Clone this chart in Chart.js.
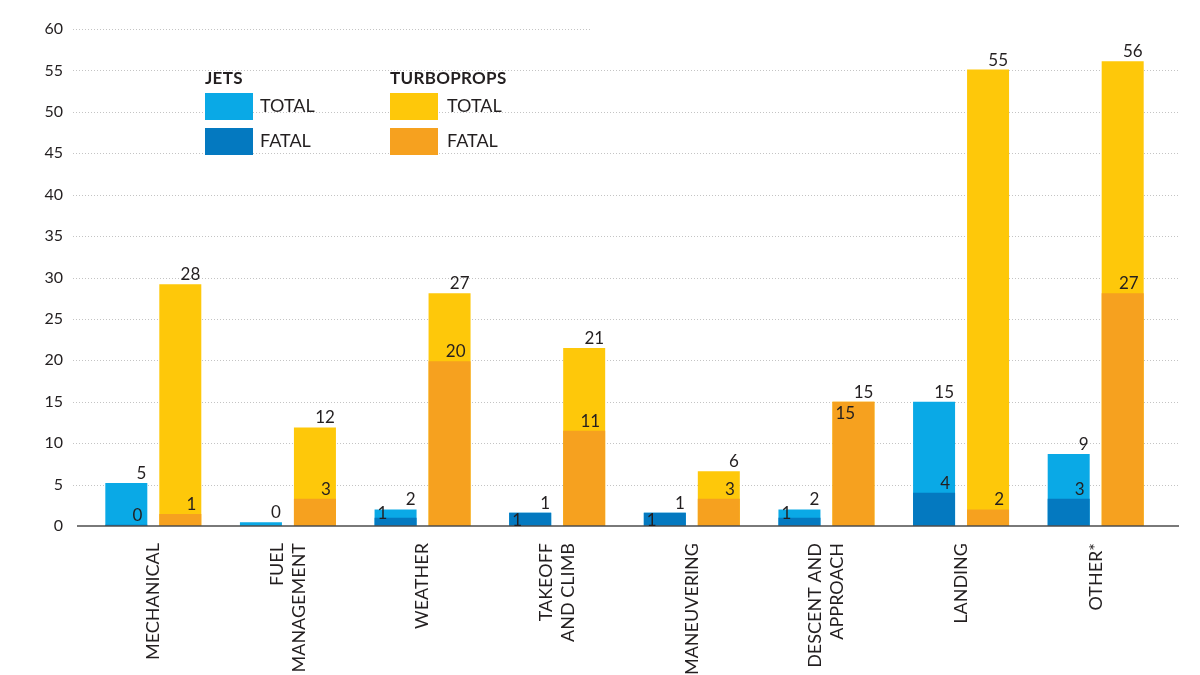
<!DOCTYPE html>
<html>
<head>
<meta charset="utf-8">
<script src="https://cdn.jsdelivr.net/npm/chart.js@4.4.1/dist/chart.umd.min.js"></script>
<style>
html,body{margin:0;padding:0;background:#fff;}
#wrap{position:relative;width:1200px;height:675px;overflow:hidden;background:#fff;}
#c{position:absolute;left:0;top:0;}
.lg{position:absolute;font-family:Lato,'Open Sans',sans-serif;color:#231f20;white-space:nowrap;}
.hd{font-weight:700;font-size:17px;line-height:17px;top:69px;letter-spacing:0.3px;}
.tx{font-size:18px;line-height:18px;}
.sw{position:absolute;width:48px;height:27px;}
</style>
</head>
<body>
<div id="wrap">
<canvas id="c" width="1200" height="675"></canvas>
<div class="lg hd" style="left:205px;">JETS</div>
<div class="sw" style="left:205px;top:93px;background:#0aa9e6;"></div>
<div class="lg tx" style="left:260px;top:96px;">TOTAL</div>
<div class="sw" style="left:205px;top:128px;background:#0479c0;"></div>
<div class="lg tx" style="left:260px;top:131px;">FATAL</div>
<div class="lg hd" style="left:390px;">TURBOPROPS</div>
<div class="sw" style="left:390px;top:93px;background:#fec80a;"></div>
<div class="lg tx" style="left:447px;top:96px;">TOTAL</div>
<div class="sw" style="left:390px;top:128px;background:#f6a11f;"></div>
<div class="lg tx" style="left:447px;top:131px;">FATAL</div>
</div>
<script>
// ---- data ----
const categories = [['MECHANICAL'], ['FUEL', 'MANAGEMENT'], ['WEATHER'], ['TAKEOFF', 'AND CLIMB'], ['MANEUVERING'], ['DESCENT AND', 'APPROACH'], ['LANDING'], ['OTHER*']];
// bar heights as drawn in the picture
const jetsTotal  = [5.2, 0.45, 2.0, 1.6, 1.6, 2.0, 15.0, 8.7];
const jetsFatal  = [0.15, 0, 1.0, 1.6, 1.6, 1.0, 4.0, 3.3];
const turboTotal = [29.2, 11.9, 28.1, 21.5, 6.6, 15.0, 55.1, 56.1];
const turboFatal = [1.45, 3.3, 19.9, 11.5, 3.3, 15.0, 2.0, 28.1];
// printed value labels
const jetsTotalLabels  = ['5', '0', '2', '1', '1', '2', '15', '9'];
const jetsFatalLabels  = ['0', '', '1', '1', '1', '1', '4', '3'];
const turboTotalLabels = ['28', '12', '27', '21', '6', '15', '55', '56'];
const turboFatalLabels = ['1', '3', '20', '11', '3', '15', '2', '27'];
const yMin = 0, yMax = 60, yStep = 5;

const FONT = "Lato, 'Open Sans', sans-serif";
const TEXT = '#231f20';

const decor = {
  id: 'decor',
  beforeDatasetsDraw(chart) {
    const {ctx, chartArea} = chart;
    const y = chart.scales.y;
    ctx.save();
    ctx.strokeStyle = '#c4c4c4';
    ctx.lineWidth = 1;
    ctx.setLineDash([1, 2]);
    for (let v = yMin + yStep; v <= yMax; v += yStep) {
      const py = Math.round(y.getPixelForValue(v)) + 0.5;
      ctx.beginPath();
      ctx.moveTo(chartArea.left - 13, py);
      ctx.lineTo(v === yMax ? 592 : chartArea.right + 17, py);
      ctx.stroke();
    }
    ctx.restore();
  },
  afterDatasetsDraw(chart) {
    const {ctx, chartArea} = chart;
    const y = chart.scales.y;
    ctx.save();
    const py0 = y.getPixelForValue(0);
    ctx.strokeStyle = '#4d4d4d';
    ctx.lineWidth = 1.5;
    ctx.beginPath();
    ctx.moveTo(chartArea.left - 9, py0);
    ctx.lineTo(chartArea.right + 16, py0);
    ctx.stroke();
    ctx.font = '17px ' + FONT;
    ctx.fillStyle = TEXT;
    ctx.textBaseline = 'alphabetic';
    const groups = [[2, 0, jetsTotalLabels, jetsFatalLabels], [3, 1, turboTotalLabels, turboFatalLabels]];
    for (const [ti, fi, tl, fl] of groups) {
      const mt = chart.getDatasetMeta(ti), mf = chart.getDatasetMeta(fi);
      for (let j = 0; j < categories.length; j++) {
        const bt = mt.data[j], bf = mf.data[j];
        const left = bt.x - bt.width / 2, right = bt.x + bt.width / 2;
        ctx.textAlign = 'right';
        ctx.fillText(tl[j], right - 1, bt.y - 4);
        if (!fl[j]) continue;
        const gap = bf.y - bt.y;
        if (gap < 1) {
          ctx.textAlign = 'left';
          ctx.fillText(fl[j], left + 3, Math.min(bt.y + 17, bt.base));
        } else if (gap < 14) {
          ctx.textAlign = 'left';
          ctx.fillText(fl[j], left + 3, bf.y + 1);
        } else {
          ctx.textAlign = 'right';
          ctx.fillText(fl[j], right - 5, bf.y - 4);
        }
      }
    }
    ctx.restore();
  },
  afterDraw(chart) {
    const {ctx} = chart;
    const x = chart.scales.x;
    const top = chart.chartArea.bottom + 17;
    ctx.save();
    ctx.font = '18px ' + FONT;
    ctx.fillStyle = TEXT;
    ctx.textAlign = 'right';
    ctx.textBaseline = 'middle';
    categories.forEach((lines, i) => {
      const cx = x.getPixelForValue(i);
      const n = lines.length;
      lines.forEach((line, k) => {
        ctx.save();
        ctx.translate(cx + (k - (n - 1) / 2) * 22, top);
        ctx.rotate(-Math.PI / 2);
        ctx.fillText(line, 0, 0);
        ctx.restore();
      });
    });
    ctx.restore();
  }
};

const barOpts = {categoryPercentage: 0.802, barPercentage: 0.778, borderWidth: 0};

new Chart(document.getElementById('c'), {
  type: 'bar',
  data: {
    labels: categories.map(c => c.join(' ')),
    datasets: [
      Object.assign({label: 'Jets fatal', data: jetsFatal, backgroundColor: '#0479c0', stack: 'jets', order: 0}, barOpts),
      Object.assign({label: 'Turboprops fatal', data: turboFatal, backgroundColor: '#f6a11f', stack: 'turbo', order: 0}, barOpts),
      Object.assign({label: 'Jets total', data: jetsTotal, backgroundColor: '#0aa9e6', stack: 'jets', order: 1}, barOpts),
      Object.assign({label: 'Turboprops total', data: turboTotal, backgroundColor: '#fec80a', stack: 'turbo', order: 1}, barOpts)
    ]
  },
  options: {
    responsive: false,
    animation: false,
    devicePixelRatio: 1,
    layout: {padding: {top: 29, right: 37, left: 0, bottom: 0}},
    plugins: {legend: {display: false}, tooltip: {enabled: false}},
    scales: {
      x: {
        type: 'category',
        position: 'bottom',
        offset: true,
        grid: {display: false},
        border: {display: false},
        ticks: {display: false},
        afterFit(s) { s.height = 149; }
      },
      y: {
        min: yMin,
        max: yMax,
        stacked: false,
        grid: {display: false, drawTicks: false},
        border: {display: false},
        ticks: {stepSize: yStep, padding: 23, color: TEXT, font: {family: FONT, size: 16}},
        afterFit(s) { s.width = 86; s.paddingTop = 10; s.paddingBottom = 10; }
      }
    }
  },
  plugins: [decor]
});
</script>
</body>
</html>
